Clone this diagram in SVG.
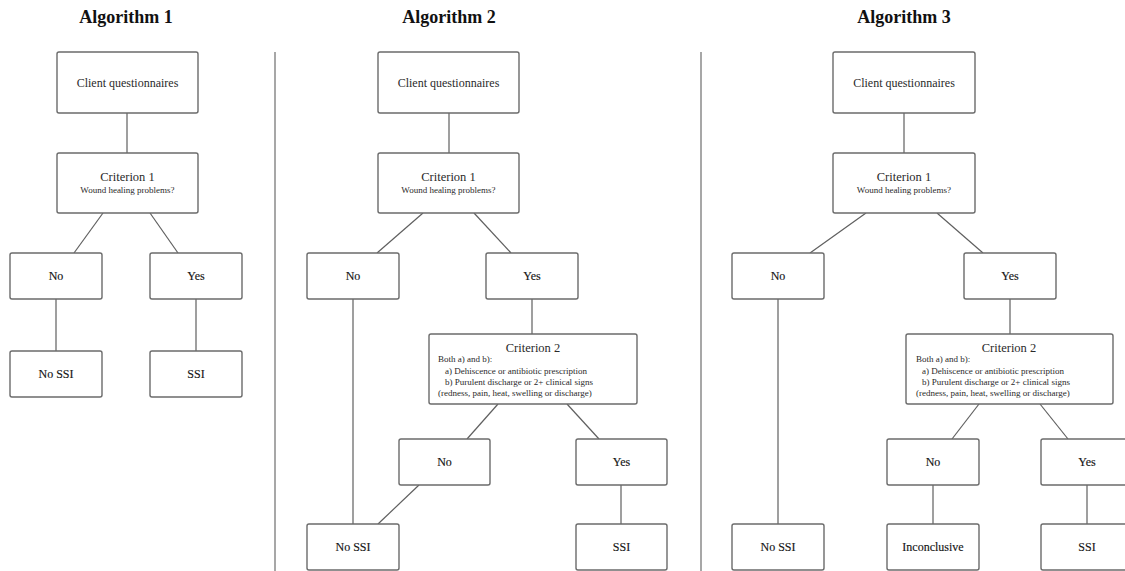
<svg xmlns="http://www.w3.org/2000/svg" width="1125" height="571" viewBox="0 0 1125 571">
<style>
.bg{fill:#ffffff}
.box{fill:#ffffff;stroke:#6b6b6b;stroke-width:1.4}
.ln{stroke:#5f5f5f;stroke-width:1.2;fill:none}
.div{stroke:#8a8a8a;stroke-width:1.5}
.title{font-family:"Liberation Serif","Times New Roman",serif;font-weight:bold;font-size:18px;fill:#111;text-anchor:middle}
.m{font-family:"Liberation Serif","Times New Roman",serif;font-size:12px;fill:#2a2a2a;text-anchor:middle}
.h{font-family:"Liberation Serif","Times New Roman",serif;font-size:12.5px;fill:#2a2a2a;text-anchor:middle}
.s{font-family:"Liberation Serif","Times New Roman",serif;font-size:9px;fill:#2a2a2a;text-anchor:middle}
.k{font-family:"Liberation Serif","Times New Roman",serif;font-size:12px;fill:#151515;text-anchor:middle;stroke:#151515;stroke-width:0.15}
.l{font-family:"Liberation Serif","Times New Roman",serif;font-size:9px;fill:#2a2a2a;text-anchor:start}
</style>
<rect class="bg" x="0" y="0" width="1125" height="571"/>
<g id="titles">
<text class="title" x="126" y="23">Algorithm 1</text>
<text class="title" x="449" y="23">Algorithm 2</text>
<text class="title" x="904" y="23">Algorithm 3</text>
</g>
<g id="dividers">
<line class="div" x1="275" y1="52" x2="275" y2="571"/>
<line class="div" x1="701" y1="52" x2="701" y2="571"/>
</g>
<g id="connectors">
<line class="ln" x1="127" y1="113" x2="127" y2="153"/>
<line class="ln" x1="103" y1="213" x2="74" y2="253"/>
<line class="ln" x1="150" y1="213" x2="178" y2="253"/>
<line class="ln" x1="56" y1="299" x2="56" y2="351"/>
<line class="ln" x1="196" y1="299" x2="196" y2="351"/>
<line class="ln" x1="449" y1="113" x2="449" y2="153"/>
<line class="ln" x1="423" y1="213" x2="377" y2="253"/>
<line class="ln" x1="474" y1="213" x2="511" y2="253"/>
<line class="ln" x1="353" y1="299" x2="353" y2="524"/>
<line class="ln" x1="532" y1="299" x2="532" y2="334"/>
<line class="ln" x1="498" y1="404" x2="467" y2="439"/>
<line class="ln" x1="567" y1="404" x2="599" y2="439"/>
<line class="ln" x1="419" y1="485" x2="378" y2="524"/>
<line class="ln" x1="621" y1="485" x2="621" y2="524"/>
<line class="ln" x1="904" y1="113" x2="904" y2="153"/>
<line class="ln" x1="866" y1="213" x2="810" y2="253"/>
<line class="ln" x1="937" y1="213" x2="983" y2="253"/>
<line class="ln" x1="778" y1="299" x2="778" y2="524"/>
<line class="ln" x1="1010" y1="299" x2="1010" y2="334"/>
<line class="ln" x1="979" y1="404" x2="952" y2="439"/>
<line class="ln" x1="1040" y1="404" x2="1068" y2="439"/>
<line class="ln" x1="933" y1="485" x2="933" y2="524"/>
<line class="ln" x1="1087" y1="485" x2="1087" y2="524"/>
</g>
<g id="a1-client"><rect class="box" x="57" y="52" width="141" height="61" rx="2"/><text class="m" x="127.5" y="87">Client questionnaires</text></g>
<g id="a1-crit1"><rect class="box" x="57" y="153" width="141" height="60" rx="2"/><text class="h" x="127.5" y="181">Criterion 1</text><text class="s" x="127.5" y="193">Wound healing problems?</text></g>
<g id="a1-no"><rect class="box" x="10" y="253" width="92" height="46" rx="2"/><text class="k" x="56" y="280">No</text></g>
<g id="a1-yes"><rect class="box" x="150" y="253" width="92" height="46" rx="2"/><text class="k" x="196" y="280">Yes</text></g>
<g id="a1-nossi"><rect class="box" x="10" y="351" width="92" height="46" rx="2"/><text class="k" x="56" y="378">No SSI</text></g>
<g id="a1-ssi"><rect class="box" x="150" y="351" width="92" height="46" rx="2"/><text class="k" x="196" y="378">SSI</text></g>
<g id="a2-client"><rect class="box" x="378" y="52" width="141" height="61" rx="2"/><text class="m" x="448.5" y="87">Client questionnaires</text></g>
<g id="a2-crit1"><rect class="box" x="378" y="153" width="141" height="60" rx="2"/><text class="h" x="448.5" y="181">Criterion 1</text><text class="s" x="448.5" y="193">Wound healing problems?</text></g>
<g id="a2-no"><rect class="box" x="307" y="253" width="92" height="46" rx="2"/><text class="k" x="353" y="280">No</text></g>
<g id="a2-yes"><rect class="box" x="486" y="253" width="92" height="46" rx="2"/><text class="k" x="532" y="280">Yes</text></g>
<g id="a2-crit2"><rect class="box" x="429" y="334" width="208" height="70" rx="2"/><text class="h" x="533" y="352">Criterion 2</text><text class="l" x="438" y="362">Both a) and b):</text><text class="l" x="445" y="374">a) Dehiscence or antibiotic prescription</text><text class="l" x="445" y="385">b) Purulent discharge or 2+ clinical signs</text><text class="l" x="438" y="396">(redness, pain, heat, swelling or discharge)</text></g>
<g id="a2-no2"><rect class="box" x="399" y="439" width="91" height="46" rx="2"/><text class="k" x="444.5" y="466">No</text></g>
<g id="a2-yes2"><rect class="box" x="576" y="439" width="91" height="46" rx="2"/><text class="k" x="621.5" y="466">Yes</text></g>
<g id="a2-nossi"><rect class="box" x="307" y="524" width="92" height="46" rx="2"/><text class="k" x="353" y="551">No SSI</text></g>
<g id="a2-ssi"><rect class="box" x="576" y="524" width="91" height="46" rx="2"/><text class="k" x="621.5" y="551">SSI</text></g>
<g id="a3-client"><rect class="box" x="833" y="52" width="142" height="61" rx="2"/><text class="m" x="904" y="87">Client questionnaires</text></g>
<g id="a3-crit1"><rect class="box" x="833" y="153" width="142" height="60" rx="2"/><text class="h" x="904" y="181">Criterion 1</text><text class="s" x="904" y="193">Wound healing problems?</text></g>
<g id="a3-no"><rect class="box" x="732" y="253" width="92" height="46" rx="2"/><text class="k" x="778" y="280">No</text></g>
<g id="a3-yes"><rect class="box" x="964" y="253" width="92" height="46" rx="2"/><text class="k" x="1010" y="280">Yes</text></g>
<g id="a3-crit2"><rect class="box" x="906" y="334" width="207" height="70" rx="2"/><text class="h" x="1009" y="352">Criterion 2</text><text class="l" x="916" y="362">Both a) and b):</text><text class="l" x="922" y="374">a) Dehiscence or antibiotic prescription</text><text class="l" x="922" y="385">b) Purulent discharge or 2+ clinical signs</text><text class="l" x="916" y="396">(redness, pain, heat, swelling or discharge)</text></g>
<g id="a3-no2"><rect class="box" x="887" y="439" width="92" height="46" rx="2"/><text class="k" x="933" y="466">No</text></g>
<g id="a3-yes2"><rect class="box" x="1041" y="439" width="92" height="46" rx="2"/><text class="k" x="1087" y="466">Yes</text></g>
<g id="a3-nossi"><rect class="box" x="732" y="524" width="92" height="46" rx="2"/><text class="k" x="778" y="551">No SSI</text></g>
<g id="a3-inconclusive"><rect class="box" x="887" y="524" width="92" height="46" rx="2"/><text class="k" x="933" y="551">Inconclusive</text></g>
<g id="a3-ssi"><rect class="box" x="1041" y="524" width="92" height="46" rx="2"/><text class="k" x="1087" y="551">SSI</text></g>
</svg>
